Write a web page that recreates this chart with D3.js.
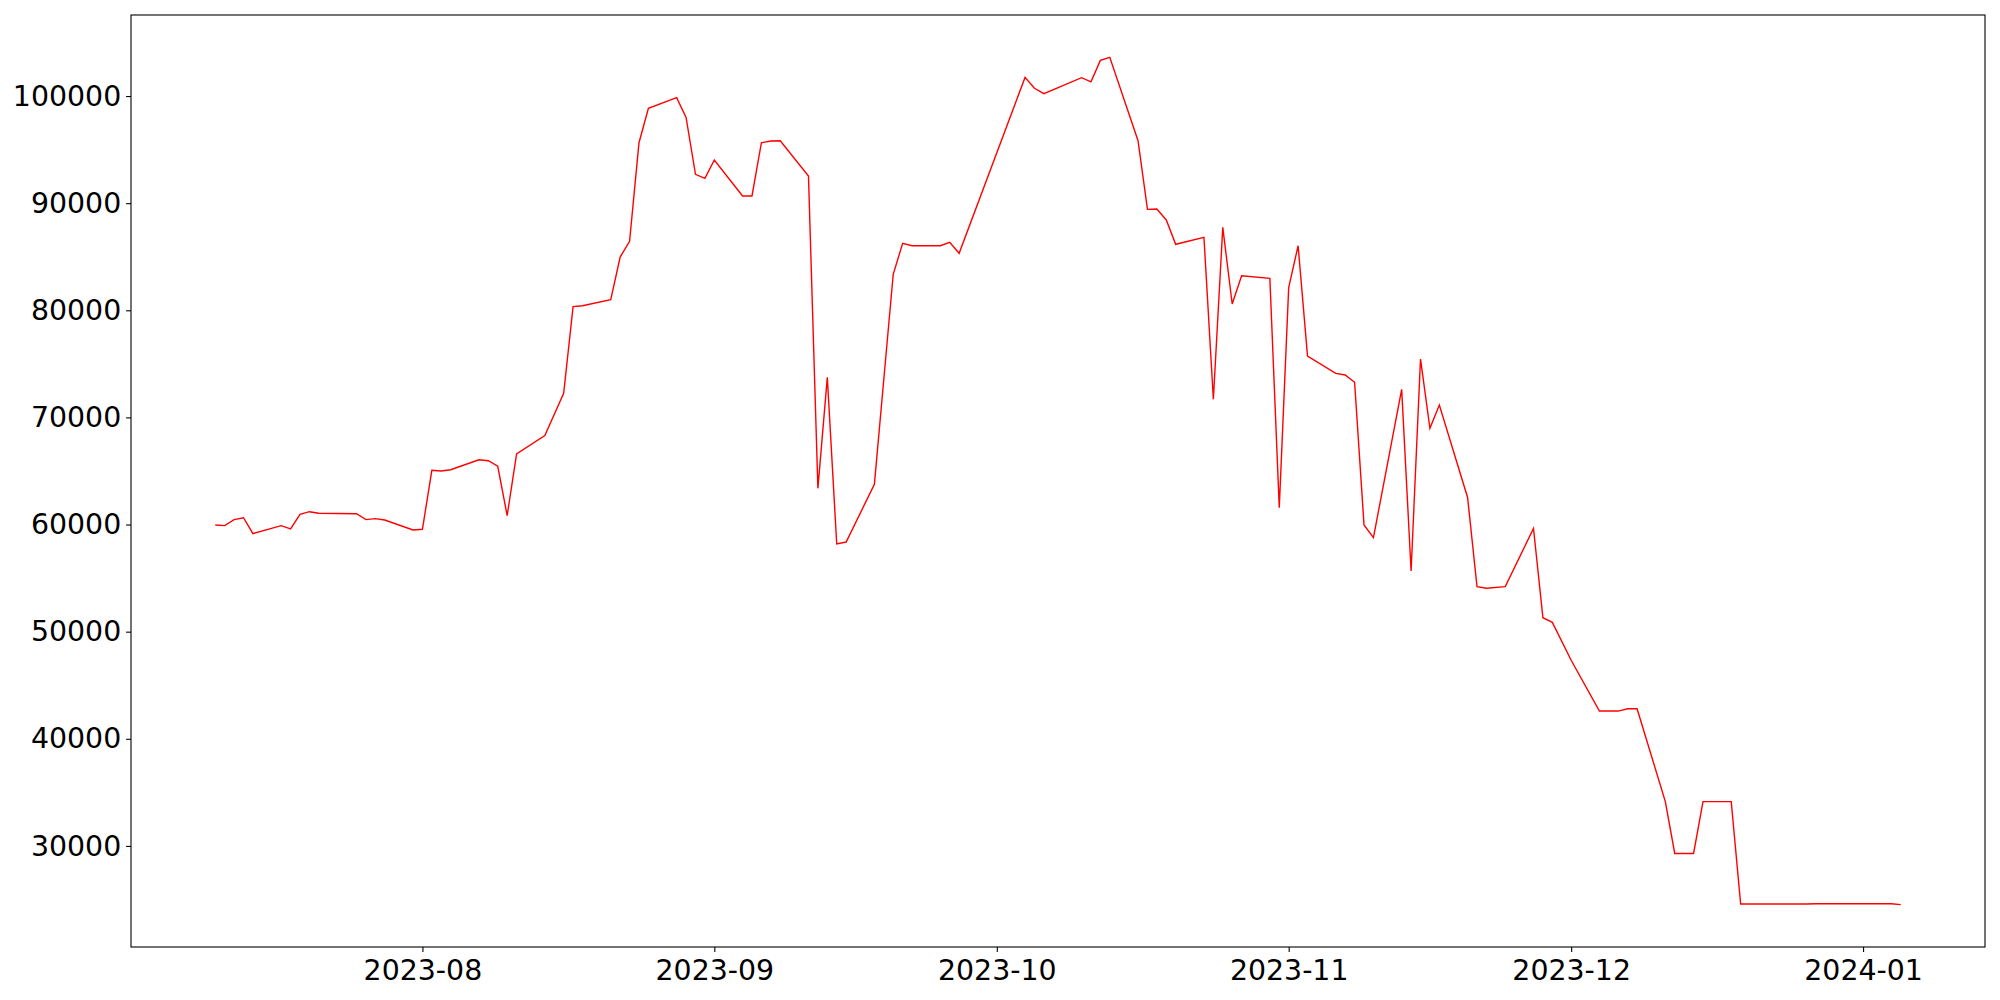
<html>
  <style>
    body { margin: 0; background: white; }
    svg { display: block; background: white; }
    .line { fill: none; stroke: red; stroke-width: 1.4px; }
    .axis text { font-family: "DejaVu Sans", sans-serif; font-size: 28.4px; fill: black; }
    .axis path, .axis line { stroke: black; stroke-width: 1.1px; }
  </style>

  <script src="https://d3js.org/d3.v7.min.js"></script>

  <body>
    <div id="container"></div>
    <script>

// trading days and the plotted value
const dates = [
  "2023-07-10","2023-07-11","2023-07-12","2023-07-13","2023-07-14",
  "2023-07-17","2023-07-18","2023-07-19","2023-07-20","2023-07-21",
  "2023-07-25","2023-07-26","2023-07-27","2023-07-28","2023-07-31",
  "2023-08-01","2023-08-02","2023-08-03","2023-08-04","2023-08-07",
  "2023-08-08","2023-08-09","2023-08-10","2023-08-11","2023-08-14",
  "2023-08-16","2023-08-17","2023-08-18","2023-08-21","2023-08-22",
  "2023-08-23","2023-08-24","2023-08-25","2023-08-28","2023-08-29",
  "2023-08-30","2023-08-31","2023-09-01","2023-09-04","2023-09-05",
  "2023-09-06","2023-09-07","2023-09-08","2023-09-11","2023-09-12",
  "2023-09-13","2023-09-14","2023-09-15","2023-09-18","2023-09-20",
  "2023-09-21","2023-09-22","2023-09-25","2023-09-26","2023-09-27",
  "2023-10-04","2023-10-05","2023-10-06","2023-10-10","2023-10-11",
  "2023-10-12","2023-10-13","2023-10-16","2023-10-17","2023-10-18",
  "2023-10-19","2023-10-20","2023-10-23","2023-10-24","2023-10-25",
  "2023-10-26","2023-10-27","2023-10-30","2023-10-31","2023-11-01",
  "2023-11-02","2023-11-03","2023-11-06","2023-11-07","2023-11-08",
  "2023-11-09","2023-11-10","2023-11-13","2023-11-14","2023-11-15",
  "2023-11-16","2023-11-17","2023-11-20","2023-11-21","2023-11-22",
  "2023-11-24","2023-11-27","2023-11-28","2023-11-29","2023-12-01",
  "2023-12-04","2023-12-05","2023-12-06","2023-12-07","2023-12-08",
  "2023-12-11","2023-12-12","2023-12-13","2023-12-14","2023-12-15",
  "2023-12-18","2023-12-19","2023-12-20","2023-12-21","2023-12-22",
  "2023-12-26","2023-12-27","2023-12-28","2023-12-29","2024-01-02",
  "2024-01-03","2024-01-04","2024-01-05"
];

const values = [
  59960, 59900, 60460, 60640, 59150,
  59900, 59590, 60960, 61200, 61050,
  61010, 60460, 60550, 60425, 59490,
  59560, 65060, 65000, 65120, 66050,
  65960, 65440, 60830, 66590, 68300,
  72250, 80340, 80430, 80990, 84970,
  86440, 95640, 98850, 99850, 98010,
  92690, 92310, 94030, 90670, 90670,
  95640, 95800, 95830, 92530, 63380,
  73740, 58190, 58370, 63760, 83360,
  86250, 86030, 86030, 86340, 85320,
  101740, 100720, 100220, 101710, 101330,
  103330, 103610, 95830, 89420, 89450,
  88430, 86160, 86810, 71690, 87740,
  80590, 83230, 82980, 61580, 82110,
  86030, 75730, 74110, 73960, 73280,
  59960, 58780, 72620, 55670, 75450,
  68980, 71160, 62530, 54200, 54050,
  54210, 59640, 51300, 50870, 47330,
  42590, 42590, 42590, 42810, 42810,
  34140, 29300, 29300, 29300, 34140,
  34140, 24580, 24580, 24580, 24580,
  24580, 24600, 24600, 24600, 24600,
  24600, 24600, 24520
];

const yTicks = [30000, 40000, 50000, 60000, 70000, 80000, 90000, 100000];
const xTicks = ["2023-08-01","2023-09-01","2023-10-01","2023-11-01","2023-12-01","2024-01-01"];

const W = 2000, H = 1000;
const margin = {top: 15, right: 15, bottom: 53, left: 131};

const parse = d3.timeParse("%Y-%m-%d");
const data = dates.map((d, i) => ({date: parse(d), value: values[i]}));

const svg = d3.select("#container").append("svg")
    .attr("width", W)
    .attr("height", H);

// matplotlib style 5% padding around the data
const pad = (ext) => {
    const a = +ext[0], b = +ext[1], m = (b - a) * 0.05;
    return [a - m, b + m];
};

const xDom = pad(d3.extent(data, d => d.date));
const xScale = d3.scaleTime()
    .domain([new Date(xDom[0]), new Date(xDom[1])])
    .range([margin.left, W - margin.right]);

const yScale = d3.scaleLinear()
    .domain(pad(d3.extent(data, d => d.value)))
    .range([H - margin.bottom, margin.top]);

const tickLen = 4.9;

const xaxis = d3.axisBottom(xScale)
    .tickValues(xTicks.map(parse))
    .tickFormat(d3.timeFormat("%Y-%m"))
    .tickSize(tickLen)
    .tickPadding(4.9)
    .tickSizeOuter(0);

const yaxis = d3.axisLeft(yScale)
    .tickValues(yTicks)
    .tickFormat(d => d)
    .tickSize(tickLen)
    .tickPadding(4.9)
    .tickSizeOuter(0);

const gx = svg.append("g")
    .attr("class", "axis axisX")
    .attr("transform", "translate(0," + (H - margin.bottom) + ")")
    .call(xaxis);
gx.select(".domain").remove();
gx.selectAll("text").attr("dy", "0.82em");

const gy = svg.append("g")
    .attr("class", "axis axisY")
    .attr("transform", "translate(" + margin.left + ",0)")
    .call(yaxis);
gy.select(".domain").remove();

const line = d3.line()
    .x(d => xScale(d.date))
    .y(d => yScale(d.value));

svg.append("path")
    .classed("line", true)
    .attr("d", line(data));

// frame around the axes
svg.append("rect")
    .attr("x", margin.left)
    .attr("y", margin.top)
    .attr("width", W - margin.left - margin.right)
    .attr("height", H - margin.top - margin.bottom)
    .attr("fill", "none")
    .attr("stroke", "black")
    .attr("stroke-width", 1.1);

</script>
</body>
</html>
